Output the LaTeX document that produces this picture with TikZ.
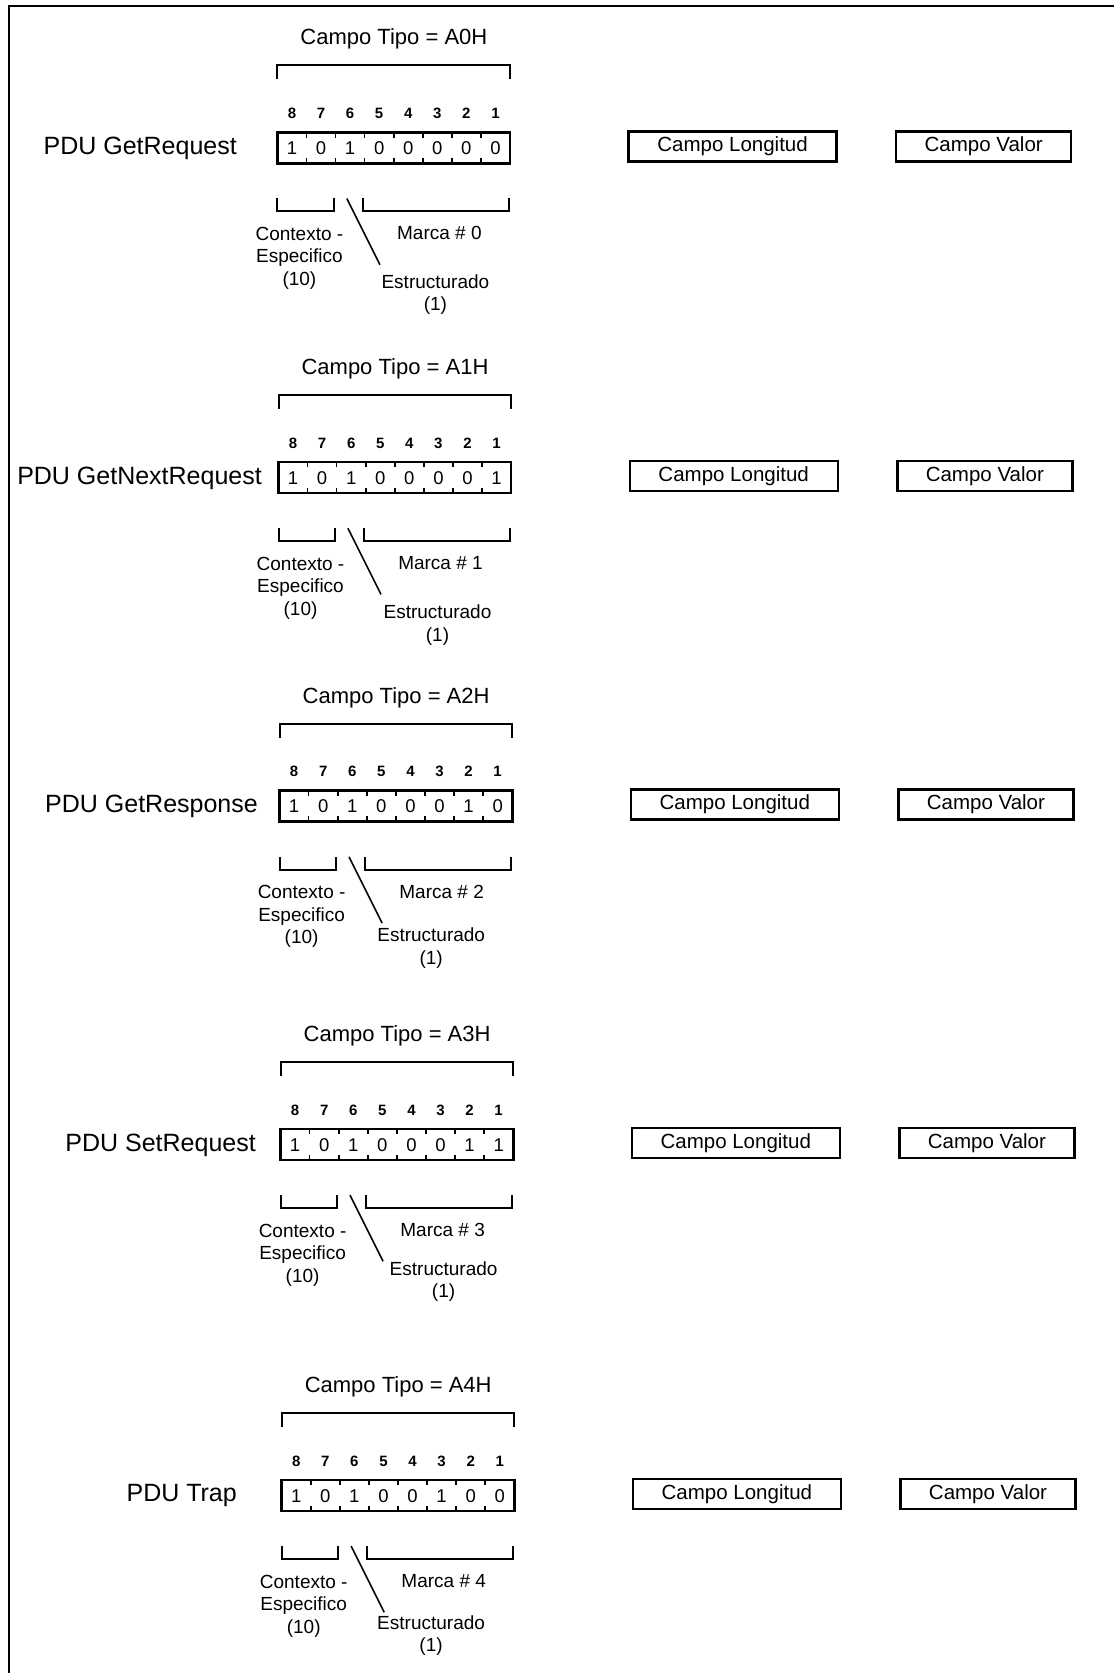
\documentclass[tikz,border=0pt]{standalone}
\usepackage{fontspec}
\setmainfont{Liberation Sans}
\tikzset{
  pdulabel/.style={font=\fontsize{25}{30}\selectfont, anchor=east, inner sep=0pt},
  tipolabel/.style={font=\fontsize{22}{26}\selectfont, inner sep=0pt},
  bitbox/.style={draw, line width=2.6pt, minimum width=232.6pt, minimum height=31pt, inner sep=0pt},
  celldigit/.style={font=\fontsize{18.5}{22}\selectfont, inner sep=0pt},
  bitnum/.style={font=\bfseries\fontsize{15}{18}\selectfont, inner sep=0pt},
  brk/.style={line width=2pt},
  divtick/.style={line width=1.6pt},
  slashline/.style={line width=1.6pt},
  smalltxt/.style={font=\fontsize{19}{22.5}\selectfont, align=center, inner sep=0pt},
  fieldbox/.style={draw, line width=2.4pt, minimum height=30pt, inner sep=0pt, font=\fontsize{20.5}{24}\selectfont},
  framepart/.style={line width=1.6pt}
}
% #1 idx, #2 box left, #3 box top, #4 label, #5 label right (rel), #6 bits, #7 marca, #8 estr dx, #9 estr dy
\newcommand\pdublock[9]{%
  \begin{scope}[shift={(#2,#3)}]
    \node[bitbox] (box#1) at (116.3,15.5) {};
    \node[pdulabel] (lab#1) at (#5,16) {#4};
    \node[tipolabel] (tipo#1) at (116.5,-93) {Campo Tipo = A#7H};
    \draw[brk] (0,-53) -- (0,-67) -- (232.6,-67) -- (232.6,-53);
    \foreach \n [count=\i] in {8,7,6,5,4,3,2,1}
      \node[bitnum] (n#1-\i) at ({29.075*(\i-0.5)},-19) {\n};
    \foreach \b [count=\i] in {#6}
      \node[celldigit] (c#1-\i) at ({29.075*(\i-0.5)},16) {\b};
    \foreach \i in {1,...,7}{
      \draw[divtick] ({29.075*\i},1.3) -- ++(0,4);
      \draw[divtick] ({29.075*\i},29.7) -- ++(0,-4);
    }
    \draw[brk] (0,66) -- (0,79) -- (56.6,79) -- (56.6,66);
    \draw[brk] (85.4,66) -- (85.4,79) -- (231.6,79) -- (231.6,66);
    \coordinate (sa#1) at (69.4,66.2);
    \coordinate (sb#1) at (102.5,132.4);
    \draw[slashline] (sa#1) -- (sb#1);
    \node[smalltxt] (ctx#1) at (22,126) {Contexto -\\Especifico\\(10)};
    \node[smalltxt] (mar#1) at (162,101) {Marca \# #7};
    \node[smalltxt] (est#1) at (#8,#9) {Estructurado\\(1)};
    \node[fieldbox, minimum width=208pt, anchor=west] (lon#1) at (350,14) {Campo Longitud};
    \node[fieldbox, minimum width=175pt, anchor=west] (val#1) at (617.6,14) {Campo Valor};
  \end{scope}}
\begin{document}
\begin{tikzpicture}[x=1pt,y=-1pt]
  \useasboundingbox (0,0) rectangle (1114,1673);
  \coordinate (ftl) at (9,6);
  \coordinate (ftr) at (1114,6);
  \coordinate (fbl) at (9,1673);
  \draw[framepart] (ftr) -- (ftl) -- (fbl);
  \pdublock{1}{277.4}{132.3}{PDU GetRequest}{-40.4}{1,0,1,0,0,0,0,0}{0}{158}{162.5}
  \pdublock{2}{278.5}{462}{PDU GetNextRequest}{-16.5}{1,0,1,0,0,0,0,1}{1}{159}{163}
  \pdublock{3}{279.6}{790.6}{PDU GetResponse}{-21.6}{1,0,1,0,0,0,1,0}{2}{151.6}{157.4}
  \pdublock{4}{280.6}{1128.9}{PDU SetRequest}{-24.6}{1,0,1,0,0,0,1,1}{3}{163}{152.6}
  \pdublock{5}{281.7}{1479.9}{PDU Trap}{-44.7}{1,0,1,0,0,1,0,0}{4}{149.4}{155.8}
\end{tikzpicture}
\end{document}
